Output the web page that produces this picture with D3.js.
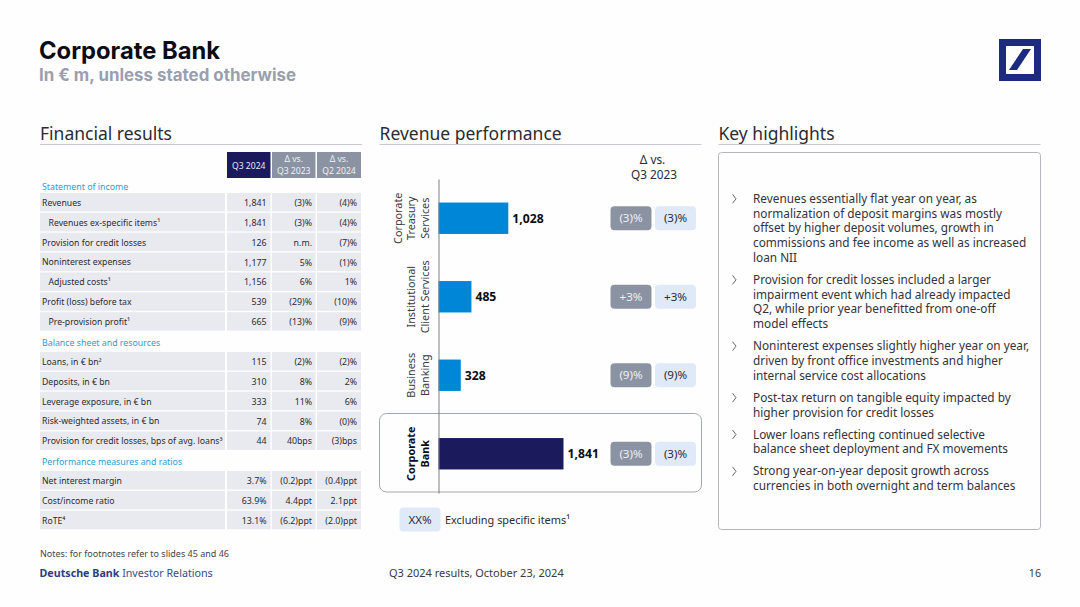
<!DOCTYPE html>
<html lang="en">
<head>
<meta charset="UTF-8">
<title>Corporate Bank</title>
<script src="https://d3js.org/d3.v7.min.js"></script>
<style>
  html, body { margin: 0; padding: 0; background: #fff; }
  svg { display: block; }
  text { font-family: "Noto Sans", sans-serif; fill: #2b2b33; }
  text.head { font-family: Inter, "Noto Sans", sans-serif; }
</style>
</head>
<body>
<svg id="slide" width="1080" height="607"></svg>
<script>
// table data
const sectionTitles = ["Statement of income", "Balance sheet and resources", "Performance measures and ratios"];
const sectionLabels = [
  ["Revenues", "Revenues ex-specific items¹", "Provision for credit losses", "Noninterest expenses", "Adjusted costs¹", "Profit (loss) before tax", "Pre-provision profit¹"],
  ["Loans, in € bn²", "Deposits, in € bn", "Leverage exposure, in € bn", "Risk-weighted assets, in € bn", "Provision for credit losses, bps of avg. loans³"],
  ["Net interest margin", "Cost/income ratio", "RoTE⁴"]
];
const indented = ["Revenues ex-specific items¹", "Adjusted costs¹", "Pre-provision profit¹"];
const sectionQ3 = [
  ["1,841", "1,841", "126", "1,177", "1,156", "539", "665"],
  ["115", "310", "333", "74", "44"],
  ["3.7%", "63.9%", "13.1%"]
];
const sectionVsQ3 = [
  ["(3)%", "(3)%", "n.m.", "5%", "6%", "(29)%", "(13)%"],
  ["(2)%", "8%", "11%", "8%", "40bps"],
  ["(0.2)ppt", "4.4ppt", "(6.2)ppt"]
];
const sectionVsQ2 = [
  ["(4)%", "(4)%", "(7)%", "(1)%", "1%", "(10)%", "(9)%"],
  ["(2)%", "2%", "6%", "(0)%", "(3)bps"],
  ["(0.4)ppt", "2.1ppt", "(2.0)ppt"]
];

// chart data
const categories = ["Corporate Treasury Services", "Institutional Client Services", "Business Banking", "Corporate Bank"];
const categoryLines = [["Corporate", "Treasury", "Services"], ["Institutional", "Client Services"], ["Business", "Banking"], ["Corporate", "Bank"]];
const revenues = [1028, 485, 328, 1841];
const deltaReported = ["(3)%", "+3%", "(9)%", "(3)%"];
const deltaExSpecific = ["(3)%", "+3%", "(9)%", "(3)%"];

const highlights = [
  ["Revenues essentially flat year on year, as", "normalization of deposit margins was mostly", "offset by higher deposit volumes, growth in", "commissions and fee income as well as increased", "loan NII"],
  ["Provision for credit losses included a larger", "impairment event which had already impacted", "Q2, while prior year benefitted from one-off", "model effects"],
  ["Noninterest expenses slightly higher year on year,", "driven by front office investments and higher", "internal service cost allocations"],
  ["Post-tax return on tangible equity impacted by", "higher provision for credit losses"],
  ["Lower loans reflecting continued selective", "balance sheet deployment and FX movements"],
  ["Strong year-on-year deposit growth across", "currencies in both overnight and term balances"]
];

const navy = "#1a1a5c", blue = "#0086d6", grey = "#8b93a3", pale = "#dfe9f8", rowFill = "#e9eaef", link = "#2f9bd3";

const svg = d3.select("#slide");
svg.append("rect").attr("width", 1080).attr("height", 607).attr("fill", "#fefefe");

function label(parent, x, y, str, size, opts) {
  opts = opts || {};
  return parent.append("text")
    .attr("x", x).attr("y", y)
    .attr("dy", "0.35em")
    .attr("text-anchor", opts.anchor || "start")
    .attr("font-size", size)
    .attr("font-weight", opts.weight || 400)
    .style("fill", opts.fill || "#2b2b33")
    .text(str);
}

// header
label(svg, 39, 51, "Corporate Bank", 24, { weight: 700, fill: "#0c0c14" }).attr("class", "head").attr("textLength", 181).attr("lengthAdjust", "spacingAndGlyphs");
label(svg, 39, 75, "In € m, unless stated otherwise", 17, { weight: 700, fill: "#9a9fb0" }).attr("class", "head").attr("textLength", 257).attr("lengthAdjust", "spacingAndGlyphs");

// logo
const logo = svg.append("g").attr("transform", "translate(999,39)");
logo.append("rect").attr("x", 3.5).attr("y", 3.5).attr("width", 35).attr("height", 35).attr("fill", "#fff").attr("stroke", "#1c2a80").attr("stroke-width", 7);
logo.append("path").attr("d", "M10,31 L24,10 L32,10 L18,31 Z").attr("fill", "#1c2a80");

// panel titles
[[40, "Financial results", 322], [379.5, "Revenue performance", 322], [718.5, "Key highlights", 322]].forEach(p => {
  label(svg, p[0], 134, p[1], 17.5);
  svg.append("line").attr("x1", p[0]).attr("x2", p[0] + p[2]).attr("y1", 144.5).attr("y2", 144.5).attr("stroke", "#c9cad0").attr("stroke-width", 1);
});

// table
const colX = [227, 272, 317], colW = [43.5, 43.5, 44], rowH = 18.5, pitch = 19.86;
const sectionHeadY = [186.5, 342.5, 461.5], sectionTop = [193, 352, 471];
const table = svg.append("g");

[["Q3 2024"], ["Δ vs.", "Q3 2023"], ["Δ vs.", "Q2 2024"]].forEach((lines, i) => {
  table.append("rect").attr("x", colX[i]).attr("y", 152).attr("width", colW[i]).attr("height", 26).attr("fill", i === 0 ? navy : grey);
  lines.forEach((t, j) => {
    const cy = lines.length === 1 ? 165.5 : 159 + j * 11.5;
    label(table, colX[i] + colW[i] / 2, cy, t, 8.6, { anchor: "middle", fill: i === 0 ? "#e8e9f4" : "#f0f1f5" });
  });
});

sectionTitles.forEach((title, s) => {
  label(table, 42, sectionHeadY[s], title, 8.8, { fill: link });
  sectionLabels[s].forEach((name, r) => {
    const y = sectionTop[s] + r * pitch, cy = y + rowH / 2 + 0.6;
    table.append("rect").attr("x", 40).attr("y", y).attr("width", 185).attr("height", rowH).attr("fill", rowFill);
    colX.forEach((x, c) => table.append("rect").attr("x", x).attr("y", y).attr("width", colW[c]).attr("height", rowH).attr("fill", rowFill));
    label(table, indented.includes(name) ? 48.5 : 42, cy, name, 8.7);
    label(table, 266.5, cy, sectionQ3[s][r], 8.8, { anchor: "end" });
    label(table, 312, cy, sectionVsQ3[s][r], 8.8, { anchor: "end" });
    label(table, 357, cy, sectionVsQ2[s][r], 8.8, { anchor: "end" });
  });
});

// revenue chart
const x = d3.scaleLinear().domain([0, 1841]).range([438.5, 563.5]);
const y = d3.scaleBand().domain(categories).range([179, 493]).paddingInner(0.6).paddingOuter(0.3);
const chart = svg.append("g");

chart.append("rect").attr("x", 379.5).attr("y", 413.5).attr("width", 322).attr("height", 78.5).attr("rx", 7)
  .attr("fill", "none").attr("stroke", "#a3a7ae").attr("stroke-width", 1);

chart.selectAll(".bar").data(categories).enter().append("rect")
  .attr("class", "bar")
  .attr("x", x(0))
  .attr("y", d => y(d))
  .attr("width", (d, i) => x(revenues[i]) - x(0))
  .attr("height", y.bandwidth())
  .attr("fill", (d, i) => i === 3 ? navy : blue);

chart.append("g")
  .attr("transform", "translate(438.5,0)")
  .call(d3.axisLeft(y).tickSize(0).tickFormat(""))
  .call(g => g.select(".domain").attr("stroke", "#7d7f86").attr("stroke-width", 1));

categories.forEach((c, i) => {
  const cy = y(c) + y.bandwidth() / 2, lines = categoryLines[i];
  lines.forEach((t, j) => {
    const lx = 425 - (lines.length - 1 - j) * 13.6;
    chart.append("text")
      .attr("transform", `translate(${lx},${cy}) rotate(-90)`)
      .attr("text-anchor", "middle").attr("dy", "0.35em")
      .attr("font-size", 10.8)
      .attr("font-weight", i === 3 ? 700 : 400)
      .style("fill", i === 3 ? "#0c0c14" : "#3a3a42")
      .text(t);
  });
  label(chart, x(revenues[i]) + 4, cy, d3.format(",")(revenues[i]), 12.2, { weight: 700, fill: "#0c0c14" });

  chart.append("rect").attr("x", 610.5).attr("y", cy - 12).attr("width", 41).attr("height", 24).attr("rx", 4).attr("fill", grey);
  label(chart, 631, cy, deltaReported[i], 11.6, { anchor: "middle", fill: "#eef0f4" });
  chart.append("rect").attr("x", 655).attr("y", cy - 12).attr("width", 41).attr("height", 24).attr("rx", 4).attr("fill", pale);
  label(chart, 675.5, cy, deltaExSpecific[i], 11.6, { anchor: "middle" });
});

label(chart, 652.5, 160, "Δ vs.", 11.8, { anchor: "middle" });
label(chart, 654, 175, "Q3 2023", 11.8, { anchor: "middle" });

chart.append("rect").attr("x", 399.5).attr("y", 507.5).attr("width", 41).attr("height", 24).attr("rx", 4).attr("fill", pale);
label(chart, 420, 520, "XX%", 11.6, { anchor: "middle" });
label(chart, 445, 520, "Excluding specific items¹", 10.9);

// key highlights
const panel = svg.append("g");
panel.append("rect").attr("x", 718.5).attr("y", 152.5).attr("width", 322).attr("height", 377).attr("rx", 3)
  .attr("fill", "none").attr("stroke", "#b4b6bc").attr("stroke-width", 1);

const lineH = 14.75, gap = 7.3;
let ty = 198.8;
highlights.forEach(lines => {
  panel.append("path").attr("d", `M732.5,${ty - 4.5} L736,${ty} L732.5,${ty + 4.5}`).attr("fill", "none").attr("stroke", "#55565e").attr("stroke-width", 0.9);
  lines.forEach((t, j) => label(panel, 753, ty + j * lineH, t, 11.8, { fill: "#33333b" }));
  ty += lines.length * lineH + gap;
});

// footer
label(svg, 40, 554, "Notes: for footnotes refer to slides 45 and 46", 9, { fill: "#44444c" });
const brand = label(svg, 39.5, 573.5, "", 10.7, { fill: "#3a4a8c" });
brand.append("tspan").attr("font-weight", 700).style("fill", "#2e3c80").text("Deutsche Bank");
brand.append("tspan").text(" Investor Relations");
label(svg, 389, 573.5, "Q3 2024 results, October 23, 2024", 11, { fill: "#3a3a42" });
label(svg, 1041, 573.5, "16", 10.7, { anchor: "end", fill: "#3a3a42" });
</script>
</body>
</html>
